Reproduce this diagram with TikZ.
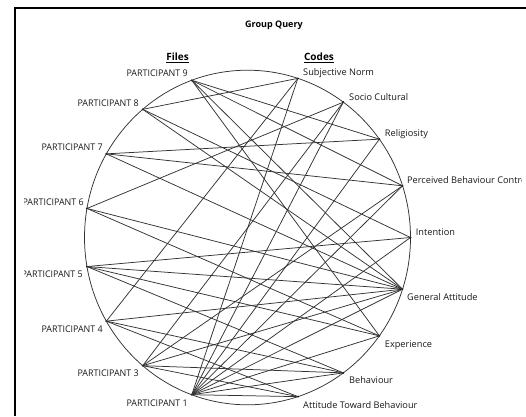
\documentclass[tikz,border=0pt]{standalone}
\usepackage{fontspec}
\setmainfont{Open Sans}
\begin{document}
\begin{tikzpicture}[x=1pt,y=-1pt,
  dot/.style={circle,fill=black,inner sep=0pt,minimum size=2pt},
  lab/.style={inner sep=0pt,font=\fontsize{9.2}{11}\selectfont,text=black!90},
  link/.style={line width=0.75pt,draw=black!80},
  head/.style={inner sep=0pt,font=\fontsize{10}{11}\selectfont\bfseries}]
\useasboundingbox (0,0) rectangle (526,416);
\fill[white] (0,0) rectangle (526,416);
\draw[line width=1.3pt] (15,416) -- (15,8) -- (526,8);
\node[head] (title) at (274,25) {\fontsize{9}{10}\selectfont Group Query};
\node[head] (files) at (177.5,58) {\underline{Files}};
\node[head] (codes) at (319,58) {\underline{Codes}};
% circle
\def\cx{247.5}\def\cy{237.5}\def\rx{163}\def\ry{167.3}
\draw[line width=0.75pt,black!80] (\cx,\cy) ellipse [x radius=\rx, y radius=\ry];
% nodes on the circle
\foreach \n/\a in {p9/110,p8/130,p7/150,p6/170,p5/190,p4/210,p3/230,p1/250,
  sn/72,sc/54,rel/36,pbc/18,int/0,ga/-18,exp/-36,beh/-54,atb/-72}{
  \node[dot] (\n) at ({\cx+\rx*cos(\a)},{\cy-\ry*sin(\a)}) {};
}
% links
\foreach \p/\c in {p1/sn,p1/sc,p1/rel,p1/pbc,p1/int,p1/ga,p1/exp,p1/beh,p1/atb,
  p3/sc,p3/pbc,p3/ga,p3/beh,p3/atb,
  p4/sn,p4/ga,p4/beh,p4/atb,
  p5/int,p5/ga,p5/exp,p5/beh,
  p6/sc,p6/ga,p6/exp,
  p7/rel,p7/pbc,p7/ga,
  p8/sn,p8/int,p8/ga,
  p9/rel,p9/pbc,p9/ga,p9/exp}{
  \draw[link] (\p.center) -- (\c.center);
}
\begin{scope}
\clip (24,0) rectangle (521,416);
\node[lab,anchor=base east] (l9) at (188,76.5) {\scalebox{0.97}[1]{PARTICIPANT 9}};
\node[lab,anchor=base east] (l8) at (139,106.5) {\scalebox{0.97}[1]{PARTICIPANT 8}};
\node[lab,anchor=base east] (l7) at (103,150.5) {\scalebox{0.97}[1]{PARTICIPANT 7}};
\node[lab,anchor=base east] (l6) at (84,205.5) {\scalebox{0.97}[1]{PARTICIPANT 6}};
\node[lab,anchor=base east] (l5) at (83,277.5) {\scalebox{0.97}[1]{PARTICIPANT 5}};
\node[lab,anchor=base east] (l4) at (103,332) {\scalebox{0.97}[1]{PARTICIPANT 4}};
\node[lab,anchor=base east] (l3) at (139,376) {\scalebox{0.97}[1]{PARTICIPANT 3}};
\node[lab,anchor=base east] (l1) at (188,406) {\scalebox{0.97}[1]{PARTICIPANT 1}};
\node[lab,anchor=base west] (lsn) at (303,75) {Subjective Norm};
\node[lab,anchor=base west] (lsc) at (349,100) {Socio Cultural};
\node[lab,anchor=base west] (lrel) at (384.7,136.5) {Religiosity};
\node[lab,anchor=base west] (lpbc) at (407,183.5) {Perceived Behaviour Control};
\node[lab,anchor=base west] (lint) at (415.7,235.5) {Intention};
\node[lab,anchor=base west] (lga) at (407,300) {General Attitude};
\node[lab,anchor=base west] (lexp) at (384.7,347) {Experience};
\node[lab,anchor=base west] (lbeh) at (349,383.5) {Behaviour};
\node[lab,anchor=base west] (latb) at (303,408.5) {Attitude Toward Behaviour};
\end{scope}
\end{tikzpicture}
\end{document}
